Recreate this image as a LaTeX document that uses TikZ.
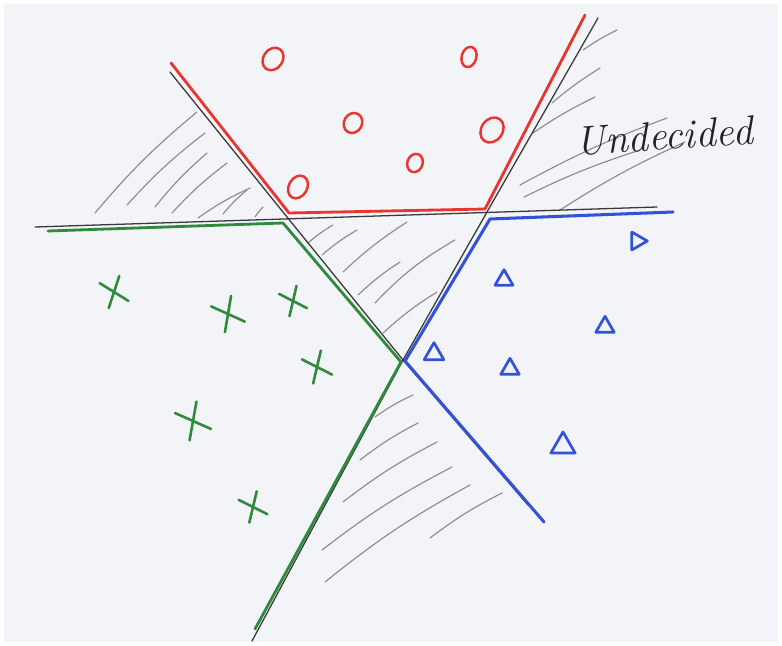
\documentclass[tikz,border=0pt]{standalone}
\usetikzlibrary{shapes.geometric,shapes.misc}
\definecolor{paper}{HTML}{F2F4F8}
\definecolor{mred}{HTML}{E8352E}
\definecolor{mgreen}{HTML}{2F8A3C}
\definecolor{mblue}{HTML}{3352D6}
\definecolor{pencil}{HTML}{3A3A3A}
\definecolor{hatchc}{HTML}{8E8E8E}
\definecolor{ink}{HTML}{222222}
\tikzset{
  pencilline/.style={draw=pencil,line width=1.1pt,line cap=round,line join=round},
  redline/.style={draw=mred,line width=2.4pt,line cap=round,line join=round},
  greenline/.style={draw=mgreen,line width=2.4pt,line cap=round,line join=round},
  blueline/.style={draw=mblue,line width=2.6pt,line cap=round,line join=round},
  hatch/.style={draw=hatchc,line width=1pt,line cap=round},
  omark/.style={ellipse,draw=mred,line width=2.1pt,minimum width=0.58cm,minimum height=0.72cm,inner sep=0pt},
  xmark/.style={cross out,draw=mgreen,line width=2.2pt,minimum width=0.55cm,minimum height=0.72cm,inner sep=0pt,line cap=round},
  tmark/.style={regular polygon,regular polygon sides=3,draw=mblue,line width=2.3pt,minimum size=0.65cm,inner sep=0pt,line join=round},
}
\begin{document}
\begin{tikzpicture}[x=0.03cm,y=-0.03cm]
\fill[white] (0,0) rectangle (782,646);
\fill[paper] (4,4) rectangle (778,642);
\useasboundingbox (0,0) rectangle (782,646);

% hatching: top-left wedge
\draw[hatch] (95,213) to[bend left=5] (197,112);
\draw[hatch] (127,205) to[bend left=5] (205,133);
\draw[hatch] (155,207) to[bend left=5] (207,153);
\draw[hatch] (172,213) to[bend left=5] (227,163);
\draw[hatch] (198,218) to[bend left=5] (250,188);
\draw[hatch] (223,214) to[bend left=5] (247,190);
\draw[hatch] (255,217) to[bend left=5] (263,207);
% hatching: central triangle
\draw[hatch] (308,243) to[bend left=5] (333,225);
\draw[hatch] (322,255) to[bend left=5] (357,230);
\draw[hatch] (343,272) to[bend left=5] (407,222);
\draw[hatch] (358,295) to[bend left=5] (400,262);
\draw[hatch] (375,303) to[bend left=8] (455,240);
\draw[hatch] (383,333) to[bend left=5] (437,292);
% hatching: top-right wedge
\draw[hatch] (583,50) to[bend left=4] (617,30);
\draw[hatch] (552,103) to[bend left=4] (600,68);
\draw[hatch] (533,133) to[bend left=4] (595,97);
\draw[hatch] (520,185) to[bend left=4] (667,118);
\draw[hatch] (524,197) to[bend left=4] (640,150);
\draw[hatch] (560,210) to[bend left=4] (685,142);
% hatching: bottom wedge
\draw[hatch] (375,417) to[bend left=5] (413,395);
\draw[hatch] (360,460) to[bend left=5] (418,423);
\draw[hatch] (343,502) to[bend left=5] (437,442);
\draw[hatch] (322,550) to[bend left=5] (452,467);
\draw[hatch] (325,582) to[bend left=5] (470,485);
\draw[hatch] (430,538) to[bend left=5] (502,493);

% pencil boundary coordinates
\coordinate (J1) at (287,217);
\coordinate (J2) at (487,212);
\coordinate (C) at (403,360);
\coordinate (Ltop) at (170,72);
\coordinate (Rtop) at (598,18);
\coordinate (Hl) at (35,227);
\coordinate (Hr) at (657,207);
\coordinate (Bl) at (252,641);
\coordinate (Br) at (528,505);
\draw[pencilline] (Ltop) -- (J1);
\draw[pencilline] (Rtop) -- (J2);
\draw[pencilline] (Hl) -- (Hr);
\draw[pencilline] (J1) -- (C);
\draw[pencilline] (J2) -- (C);
\draw[pencilline] (C) -- (Bl);
\draw[pencilline] (C) -- (Br);

% red region boundary
\coordinate (r1) at (171,63);
\coordinate (r2) at (289,213);
\coordinate (r3) at (485,209);
\coordinate (r4) at (585,15);
\draw[redline] (r1) -- (r2) -- (r3) -- (r4);
% green region boundary
\coordinate (g1) at (48,231);
\coordinate (g2) at (283,223);
\coordinate (g3) at (401,362);
\coordinate (g4) at (255,629);
\draw[greenline] (g1) -- (g2) -- (g3) -- (g4);
% blue region boundary
\coordinate (b1) at (673,212);
\coordinate (b2) at (490,219);
\coordinate (b3) at (405,361);
\coordinate (b4) at (544,522);
\draw[blueline] (b1) -- (b2) -- (b3) -- (b4);

% red circles
\node[omark,rotate=-35] (o1) at (273,59) {};
\node[omark,rotate=-15,minimum width=0.44cm,minimum height=0.62cm] (o2) at (469,57) {};
\node[omark,rotate=-30,minimum width=0.54cm,minimum height=0.62cm] (o3) at (353,123) {};
\node[omark,rotate=-35,minimum width=0.64cm,minimum height=0.8cm] (o4) at (492,130) {};
\node[omark,rotate=-20,minimum width=0.46cm,minimum height=0.56cm] (o5) at (415,163) {};
\node[omark,rotate=-30,minimum width=0.55cm,minimum height=0.72cm] (o6) at (298,187) {};

% green crosses
\node[xmark,rotate=20] (x1) at (114,292) {};
\node[xmark,rotate=28,minimum width=0.6cm,minimum height=0.8cm] (x2) at (228,314) {};
\node[xmark,rotate=25,minimum width=0.5cm,minimum height=0.66cm] (x3) at (293,301) {};
\node[xmark,rotate=25] (x4) at (317,367) {};
\node[xmark,rotate=28,minimum width=0.65cm,minimum height=0.85cm] (x5) at (193,421) {};
\node[xmark,rotate=25,minimum width=0.52cm,minimum height=0.68cm] (x6) at (253,507) {};

% blue triangles
\node[tmark,rotate=30,minimum size=0.62cm] (t1) at (637,241) {};
\node[tmark,minimum size=0.62cm] (t2) at (504,280) {};
\node[tmark,minimum size=0.64cm] (t3) at (605,327) {};
\node[tmark,minimum size=0.68cm] (t4) at (434,354) {};
\node[tmark,minimum size=0.64cm] (t5) at (510,369) {};
\node[tmark,minimum size=0.84cm] (t6) at (563,446) {};

% label
\node[text=ink,rotate=4,inner sep=0pt] (lab) at (664,136)
  {\fontsize{35}{38}\selectfont\itshape Undecided};
\end{tikzpicture}
\end{document}
